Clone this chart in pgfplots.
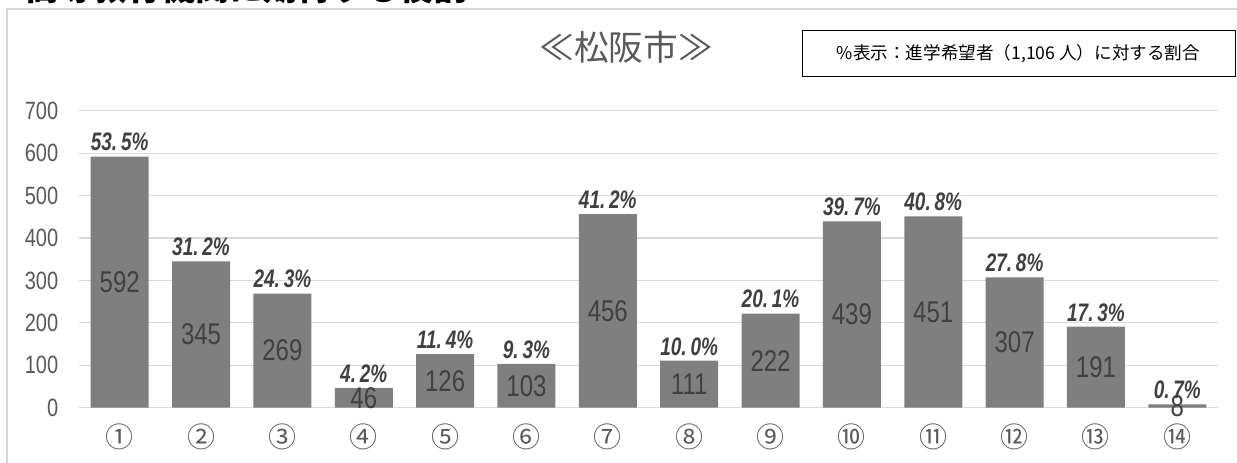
\documentclass[border=0pt]{standalone}
\usepackage{fontspec}
\usepackage{pgfplots}
\pgfplotsset{compat=1.18}
\usepackage{pgfplotstable}
\setmainfont{Liberation Sans}
\newfontfamily\jp{Noto Sans CJK JP}
\newfontfamily\cnd[FakeStretch=0.8]{Liberation Sans}
\newfontfamily\cndp[FakeStretch=0.75]{Liberation Sans}
\definecolor{bargray}{HTML}{7F7F7F}
\definecolor{gridgray}{HTML}{D9D9D9}
\definecolor{ticktext}{HTML}{595959}
\definecolor{labtext}{HTML}{404040}

% value = respondents, pct = share of the 1,106 who want to go on
\pgfplotstableread{
x v pct
0 592 53.5
1 345 31.2
2 269 24.3
3 46 4.2
4 126 11.4
5 103 9.3
6 456 41.2
7 111 10.0
8 222 20.1
9 439 39.7
10 451 40.8
11 307 27.8
12 191 17.3
13 8 0.7
}\roles

\begin{document}
\begin{tikzpicture}[x=0.75pt,y=0.75pt]
\path[use as bounding box] (0,0) rectangle (1237,463);
\clip (0,0) rectangle (1237,463);
% heading of the page, cut off at the top
\node[anchor=south west, inner sep=0pt, font=\jp\bfseries\fontsize{25.5pt}{30pt}\selectfont]
  at (25,458.5) {高等教育機関に期待する役割};
\draw[gridgray, line width=1.1pt] (7,454) rectangle (1260,-20);
\node[text=ticktext, inner sep=0pt, font=\jp\fontsize{26pt}{30pt}\selectfont]
  at (626,415.5) {≪松阪市≫};
\node[draw=black, line width=0.75pt, inner sep=0pt,
      minimum width=324.75pt, minimum height=34.2pt,
      font=\jp\fontsize{13.2pt}{15pt}\selectfont]
  at (1018.5,409.5) {\%表示：進学希望者（1,106 人）に対する割合};
\begin{axis}[
  at={(59.25pt,41.475pt)}, anchor=south west,
  scale only axis, width=854.25pt, height=222.75pt,
  xmin=-0.5, xmax=13.5, ymin=0, ymax=700,
  ytick={0,100,...,700},
  xtick={0,...,13},
  xticklabels={①,②,③,④,⑤,⑥,⑦,⑧,⑨,⑩,⑪,⑫,⑬,⑭},
  ymajorgrids, grid style={gridgray, line width=0.9pt},
  axis line style={draw=none},
  major tick length=0pt,
  tick label style={text=ticktext},
  yticklabel style={font=\cnd\fontsize{18.75pt}{20pt}\selectfont, inner sep=0pt, xshift=-15.4pt},
  xticklabel style={font=\jp\fontsize{21pt}{24pt}\selectfont, anchor=center, yshift=-22pt},
  /pgf/number format/assume math mode=true,
  clip=false,
]
\addplot[ybar, bar width=43.5pt, fill=bargray, draw=none] table[x=x, y=v] {\roles};
% counts, set in the middle of each bar
\addplot[draw=none, no markers, point meta=explicit,
  nodes near coords, nodes near coords align={anchor=center},
  nodes near coords style={text=labtext, inner sep=0pt,
    font=\cnd\fontsize{22.5pt}{24pt}\selectfont}]
  table[x=x, y expr=\thisrow{v}/2, meta=v] {\roles};
% shares, above each bar
\addplot[draw=none, no markers, point meta=explicit,
  nodes near coords={\pgfmathprintnumber[fixed, fixed zerofill, precision=1, dec sep={.\hspace{0.15em}}]{\pgfplotspointmeta}\%},
  nodes near coords style={text=labtext, inner sep=0pt, anchor=south, yshift=3.8pt,
    font=\cndp\bfseries\itshape\fontsize{19pt}{22pt}\selectfont}]
  table[x=x, y=v, meta=pct] {\roles};
\end{axis}
\end{tikzpicture}
\end{document}
